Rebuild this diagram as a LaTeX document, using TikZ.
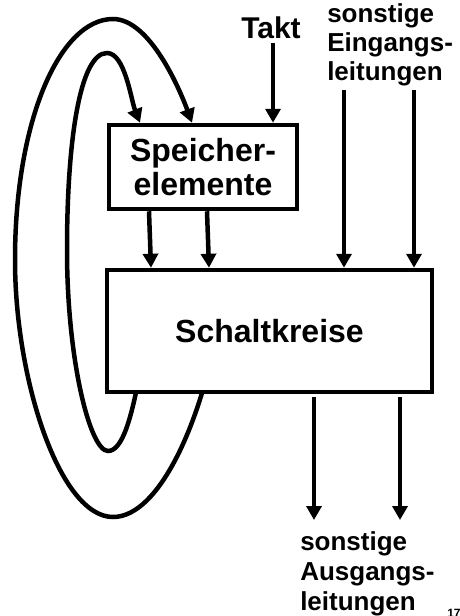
\documentclass[tikz,border=0pt]{standalone}
\usepackage{fontspec}
\setmainfont{Liberation Sans}
\usetikzlibrary{arrows.meta}
\begin{document}
\begin{tikzpicture}[x=1pt,y=1pt,
  line width=4.5pt,
  arr/.style={-{Triangle[length=14pt,width=15pt]}},
  box/.style={draw, fill=white, inner sep=0pt, align=center, font=\bfseries\fontsize{32}{34}\selectfont},
  lbl/.style={inner sep=0pt, align=left, font=\bfseries\fontsize{26}{29}\selectfont}]
\useasboundingbox (0,0) rectangle (460,-616);

% feedback loops (drawn first, partly hidden behind the Schaltkreise box)
\coordinate (li) at (142,-360);
\coordinate (lo) at (215,-340);
\node[box, minimum width=188pt, minimum height=84pt] (spe) at (203,-167) {Speicher-\\elemente};

\draw[arr] (li) .. controls (132,-420) and (122,-451) .. (108,-451)
  .. controls (90,-451) and (67,-360) .. (67,-250)
  .. controls (67,-140) and (80,-53) .. (107,-53)
  .. controls (125,-53) and (131,-100) .. ([xshift=-63pt]spe.north);
\draw[arr] (lo) .. controls (200,-420) and (160,-517) .. (113,-517)
  .. controls (60,-517) and (15,-380) .. (15,-260)
  .. controls (15,-120) and (60,-19) .. (113,-19)
  .. controls (150,-19) and (180,-90) .. ([xshift=-11pt]spe.north);

\node[box, minimum width=325pt, minimum height=122pt] (sch) at (269.5,-331) {Schaltkreise};

% labels
\node[inner sep=0pt, font=\bfseries\fontsize{30}{32}\selectfont, anchor=base] (takt) at (271,-38) {Takt};
\node[lbl, anchor=base west] (ein) at (325,-80) {sonstige\\Eingangs-\\leitungen};
\node[lbl, anchor=base west, font=\bfseries\fontsize{26}{30}\selectfont] (aus) at (298,-610) {sonstige\\Ausgangs-\\leitungen};
\node[inner sep=0pt, font=\bfseries\fontsize{12}{14}\selectfont, anchor=north west] (pg) at (445,-607) {17};

% inputs
\coordinate (t1) at (273,-43);
\draw[arr] (t1) -- (t1 |- spe.north);
\coordinate (e1) at (344,-90);
\coordinate (e2) at (414,-90);
\draw[arr] (e1) -- (e1 |- sch.north);
\draw[arr] (e2) -- (e2 |- sch.north);

% Speicher -> Schaltkreise
\draw[arr] ([xshift=-54pt]spe.south) -- ([xshift=-118.5pt]sch.north);
\draw[arr] ([xshift=4pt]spe.south) -- ([xshift=-60.5pt]sch.north);

% outputs
\coordinate (o1) at (314,-520);
\coordinate (o2) at (400,-520);
\draw[arr] (o1 |- sch.south) ++(0,-3) -- (o1);
\draw[arr] (o2 |- sch.south) ++(0,-3) -- (o2);
\end{tikzpicture}
\end{document}
